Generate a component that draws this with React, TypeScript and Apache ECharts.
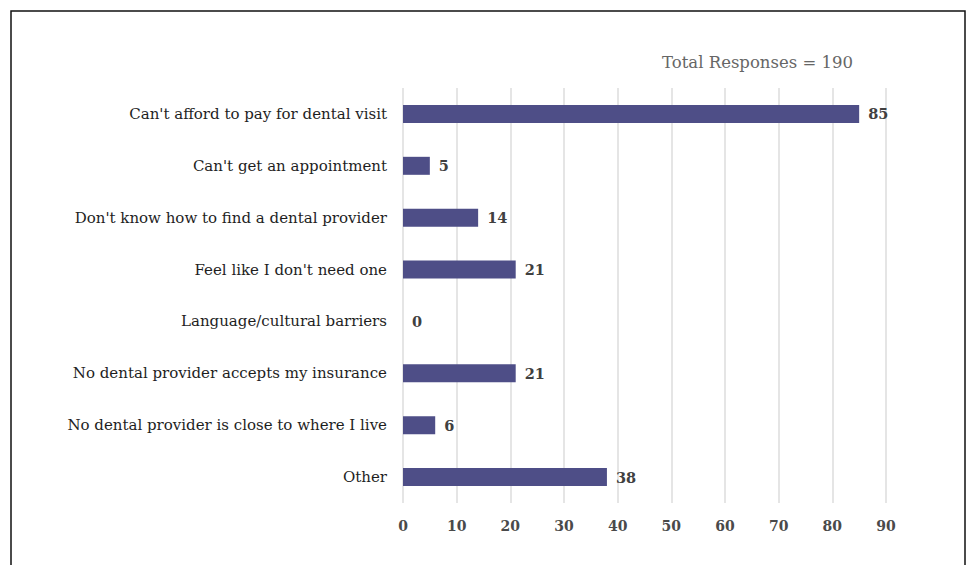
import React, { useEffect, useRef } from "react";
import * as echarts from "echarts";

const categories = [
  "Can't afford to pay for dental visit",
  "Can't get an appointment",
  "Don't know how to find a dental provider",
  "Feel like I don't need one",
  "Language/cultural barriers",
  "No dental provider accepts my insurance",
  "No dental provider is close to where I live",
  "Other",
];
const values = [85, 5, 14, 21, 0, 21, 6, 38];
const titleText = "Total Responses = 190";

export default function App() {
  const ref = useRef<HTMLDivElement>(null);
  useEffect(() => {
    if (!ref.current) return;
    const chart = echarts.init(ref.current, undefined, { renderer: "svg" });
    const font = "'DejaVu Serif', 'Liberation Serif', serif";
    chart.setOption({
      animation: false,
      backgroundColor: "#ffffff",
      title: {
        text: titleText,
        right: 112,
        top: 49,
        textStyle: { fontFamily: font, fontSize: 16.5, fontWeight: "normal", color: "#666666" },
      },
      graphic: [
        {
          type: "rect",
          shape: { x: 11, y: 11, width: 954, height: 600 },
          style: { fill: "none", stroke: "#111111", lineWidth: 1.5 },
          silent: true,
        },
      ],
      grid: { left: 403, right: 84, top: 88, bottom: 62, containLabel: false },
      xAxis: {
        type: "value",
        min: 0,
        max: 90,
        interval: 10,
        axisLine: { show: false },
        axisTick: { show: false },
        splitLine: { show: true, lineStyle: { color: "#dcdcdc", width: 1.5 } },
        axisLabel: { margin: 16, fontFamily: font, fontSize: 14, fontWeight: "bold", color: "#4a4a4a" },
      },
      yAxis: {
        type: "category",
        inverse: true,
        data: categories,
        axisLine: { show: false },
        axisTick: { show: false },
        splitLine: { show: false },
        axisLabel: { margin: 16, fontFamily: font, fontSize: 15, color: "#1e1e1e" },
      },
      series: [
        {
          type: "bar",
          data: values,
          barWidth: 18,
          itemStyle: { color: "#4e4e87" },
          label: {
            show: true,
            position: "right",
            distance: 9,
            fontFamily: font,
            fontSize: 14.5,
            fontWeight: "bold",
            color: "#404040",
          },
        },
      ],
    });
    return () => chart.dispose();
  }, []);
  return (
    <div
      ref={ref}
      style={{ position: "fixed", left: 0, top: 0, width: 970, height: 565 }}
    />
  );
}
